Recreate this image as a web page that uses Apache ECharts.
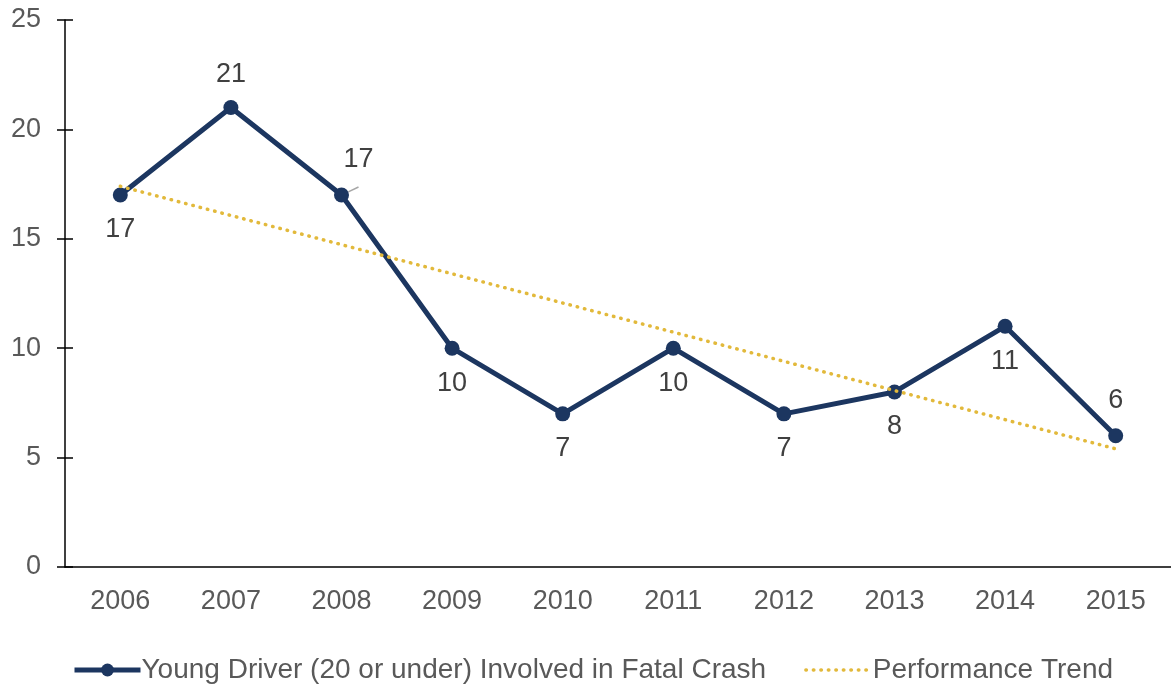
<!DOCTYPE html>
<html>
<head>
<meta charset="utf-8">
<script src="https://cdn.jsdelivr.net/npm/echarts@6/dist/echarts.min.js"></script>
<style>
  html, body { margin: 0; padding: 0; background: #fff; }
  #main { width: 1171px; height: 690px; }
</style>
</head>
<body>
<div id="main"></div>
<script>
var years = ["2006", "2007", "2008", "2009", "2010", "2011", "2012", "2013", "2014", "2015"];
var crashes = [17, 21, 17, 10, 7, 10, 7, 8, 11, 6];
// trend line endpoints
var trend = [17.4, null, null, null, null, null, null, null, null, 5.4];
// where each value label sits
var labelPos = ["bottom", "top", "top", "bottom", "bottom", "bottom", "bottom", "bottom", "bottom", "top"];

var chartDom = document.getElementById("main");
var myChart = echarts.init(chartDom);
var option;

var txt = { fontFamily: "Liberation Sans", color: "#595959" };

option = {
  backgroundColor: "#ffffff",
  animation: false,
  grid: { left: 65, right: -4, top: 20, bottom: 123 },
  legend: {
    bottom: 6,
    left: 72,
    padding: 0,
    itemWidth: 66,
    itemHeight: 16,
    itemGap: 38,
    textStyle: { fontFamily: "Liberation Sans", fontSize: 28, color: "#595959", padding: [0, 0, 0, -4] },
    data: [
      { name: "Young Driver (20 or under) Involved in Fatal Crash", lineStyle: { width: 5 } },
      { name: "Performance Trend", itemStyle: { opacity: 0 }, lineStyle: { width: 3.5 } }
    ]
  },
  xAxis: [
    {
      type: "category",
      data: years,
      boundaryGap: true,
      axisLine: { lineStyle: { color: "#000", width: 1.5 } },
      axisTick: { length: 8, lineStyle: { color: "#000", width: 1.5 } },
      axisLabel: Object.assign({ fontSize: 27, margin: 21 }, txt)
    },
    {
      type: "category",
      data: years,
      position: "bottom",
      boundaryGap: true,
      axisLine: { show: false },
      axisTick: { inside: true, length: 8, lineStyle: { color: "#000", width: 1.5 } },
      axisLabel: { show: false }
    }
  ],
  yAxis: [
    {
      type: "value",
      min: 0,
      max: 25,
      interval: 5,
      splitLine: { show: false },
      axisLine: { show: true, lineStyle: { color: "#000", width: 1.5 } },
      axisTick: { show: true, length: 8, lineStyle: { color: "#000", width: 1.5 } },
      axisLabel: Object.assign({ fontSize: 27, margin: 24 }, txt)
    },
    {
      type: "value",
      min: 0,
      max: 25,
      interval: 5,
      position: "left",
      splitLine: { show: false },
      axisLine: { show: false },
      axisTick: { show: true, inside: true, length: 8, lineStyle: { color: "#000", width: 1.5 } },
      axisLabel: { show: false }
    }
  ],
  series: [
    {
      name: "Performance Trend",
      type: "line",
      data: trend,
      connectNulls: true,
      symbol: "none",
      z: 3,
      lineStyle: { color: "#e2b93b", width: 3.5, type: [0.5, 7], cap: "round" },
      itemStyle: { color: "#e2b93b" }
    },
    {
      name: "Young Driver (20 or under) Involved in Fatal Crash",
      type: "line",
      z: 2,
      data: crashes.map(function (v, i) {
        var item = {
          value: v,
          label: { position: labelPos[i], distance: 14 }
        };
        if (i === 1) {
          item.label = { position: "top", distance: 12 };
          item.labelLine = { show: true };
        }
        if (i === 2) {
          item.label = { position: "top", distance: 14, offset: [17, 0] };
          item.labelLine = { show: true };
        }
        return item;
      }),
      symbol: "circle",
      symbolSize: 15,
      lineStyle: { color: "#1c3660", width: 5 },
      itemStyle: { color: "#1c3660" },
      label: {
        show: true,
        fontFamily: "Liberation Sans",
        fontSize: 27,
        color: "#404040"
      },
      labelLine: {
        show: false,
        lineStyle: { color: "#a6a6a6", width: 1.5 }
      }
    }
  ]
};

option && myChart.setOption(option);
</script>
</body>
</html>
